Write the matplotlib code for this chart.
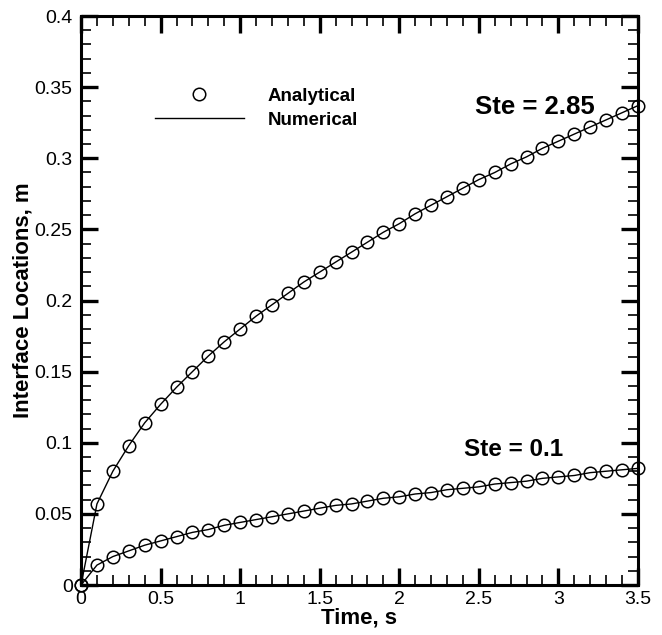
import matplotlib.pyplot as plt
from matplotlib.ticker import MultipleLocator

plt.rcParams['font.family'] = ['Liberation Sans', 'DejaVu Sans']

time_s = [0.0, 0.1, 0.2, 0.3, 0.4, 0.5, 0.6, 0.7, 0.8, 0.9, 1.0, 1.1, 1.2, 1.3, 1.4, 1.5, 1.6, 1.7,
          1.8, 1.9, 2.0, 2.1, 2.2, 2.3, 2.4, 2.5, 2.6, 2.7, 2.8, 2.9, 3.0, 3.1, 3.2, 3.3, 3.4, 3.5]
ste_285 = [0.000, 0.057, 0.080, 0.098, 0.114, 0.127, 0.139, 0.150, 0.161, 0.171, 0.180, 0.189,
           0.197, 0.205, 0.213, 0.220, 0.227, 0.234, 0.241, 0.248, 0.254, 0.261, 0.267, 0.273,
           0.279, 0.285, 0.290, 0.296, 0.301, 0.307, 0.312, 0.317, 0.322, 0.327, 0.332, 0.337]
ste_01 = [0.000, 0.014, 0.020, 0.024, 0.028, 0.031, 0.034, 0.037, 0.039, 0.042, 0.044, 0.046,
          0.048, 0.050, 0.052, 0.054, 0.056, 0.057, 0.059, 0.061, 0.062, 0.064, 0.065, 0.067,
          0.068, 0.069, 0.071, 0.072, 0.073, 0.075, 0.076, 0.077, 0.079, 0.080, 0.081, 0.082]

fig = plt.figure(figsize=(6.62, 6.35), dpi=100)
ax = fig.add_axes([0.1224, 0.0787, 0.8413, 0.8961])

# analytical = circles, numerical = thin line
ax.plot(time_s, ste_285, 'o', mfc='none', mec='black', ms=9, mew=1.1, label='Analytical', clip_on=False, zorder=3)
ax.plot(time_s, ste_01, 'o', mfc='none', mec='black', ms=9, mew=1.1, clip_on=False, zorder=3)
ax.plot(time_s, ste_285, '-', color='black', lw=1.0, label='Numerical')
ax.plot(time_s, ste_01, '-', color='black', lw=1.0)

ax.set_xlim(0, 3.5)
ax.set_ylim(0, 0.4)
ax.xaxis.set_major_locator(MultipleLocator(0.5))
ax.xaxis.set_minor_locator(MultipleLocator(0.1))
ax.yaxis.set_major_locator(MultipleLocator(0.05))
ax.yaxis.set_minor_locator(MultipleLocator(0.01))
ax.xaxis.set_major_formatter(plt.FuncFormatter(lambda v, p: f'{v:g}'))
ax.yaxis.set_major_formatter(plt.FuncFormatter(lambda v, p: f'{v:g}'))
ax.tick_params(which='both', direction='in', top=True, right=True, labelsize=14, width=1.2)
ax.tick_params(axis='x', pad=4)
ax.tick_params(axis='y', pad=6)
ax.tick_params(which='major', length=12, width=2.4)
ax.tick_params(which='minor', length=7)
for sp in ax.spines.values():
    sp.set_linewidth(2.2)

ax.set_xlabel('Time, s', fontsize=16, fontweight='bold', labelpad=0)
ax.set_ylabel('Interface Locations, m', fontsize=16, fontweight='bold', labelpad=1)

ax.text(2.85, 0.336, 'Ste = 2.85', fontsize=18.5, fontweight='bold', ha='center', va='center')
ax.text(2.72, 0.095, 'Ste = 0.1', fontsize=17.5, fontweight='bold', ha='center', va='center')

ax.legend(loc='upper left', bbox_to_anchor=(0.119, 0.887), frameon=False, handlelength=4.75,
          prop={'weight': 'bold', 'size': 13.5}, labelspacing=0.35, handletextpad=1.25,
          borderaxespad=0)

fig.savefig('out.png', dpi=100)
